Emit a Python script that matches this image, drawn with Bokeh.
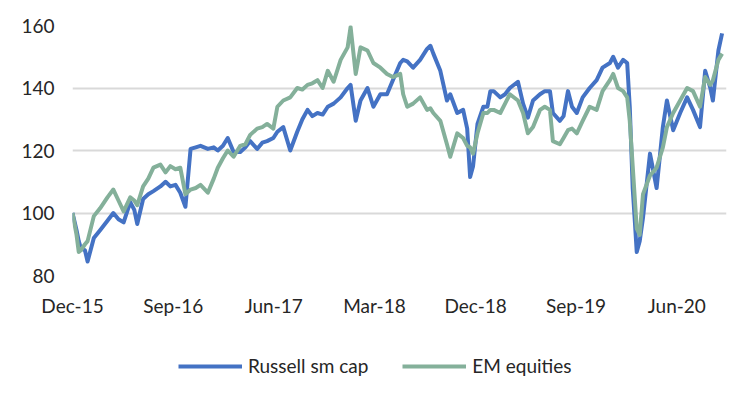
import pandas as pd
from bokeh.plotting import figure
from bokeh.layouts import column
from bokeh.models import Range1d, FixedTicker, DatetimeTickFormatter, Legend, LegendItem, ColumnDataSource
from bokeh.embed import file_html
from bokeh.resources import INLINE

dates = ["2015-12-31","2016-01-11","2016-01-17","2016-01-22","2016-02-03","2016-02-10","2016-02-27","2016-03-15",
 "2016-04-04","2016-04-20","2016-05-04","2016-05-18","2016-06-05","2016-06-16","2016-06-24","2016-07-10","2016-07-24",
 "2016-08-07","2016-08-26","2016-09-09","2016-09-22","2016-10-06","2016-10-19","2016-11-02","2016-11-16","2016-11-30",
 "2016-12-13","2017-01-02","2017-01-18","2017-01-29","2017-02-12","2017-02-25","2017-03-13","2017-03-31","2017-04-14",
 "2017-04-27","2017-05-16","2017-05-30","2017-06-12","2017-06-29","2017-07-10","2017-07-26","2017-08-14","2017-09-02",
 "2017-09-16","2017-09-30","2017-10-13","2017-10-27","2017-11-10","2017-11-24","2017-12-10","2017-12-29","2018-01-17",
 "2018-01-25","2018-02-08","2018-02-21","2018-03-12","2018-03-28","2018-04-16","2018-05-04","2018-05-20","2018-06-09",
 "2018-06-17","2018-06-28","2018-07-14","2018-08-02","2018-08-21","2018-08-30","2018-09-07","2018-09-26","2018-10-14",
 "2018-10-23","2018-11-11","2018-11-27","2018-12-08","2018-12-16","2018-12-24","2019-01-05","2019-01-21","2019-02-01",
 "2019-02-09","2019-02-18","2019-03-08","2019-03-21","2019-04-03","2019-04-25","2019-05-09","2019-05-22","2019-06-05",
 "2019-06-24","2019-07-07","2019-07-21","2019-07-29","2019-08-17","2019-08-27","2019-09-08","2019-09-19","2019-10-02",
 "2019-10-18","2019-11-06","2019-11-25","2019-12-11","2019-12-31","2020-01-09","2020-01-22","2020-02-05","2020-02-16",
 "2020-02-23","2020-03-02","2020-03-08","2020-03-13","2020-03-21","2020-03-30","2020-04-18","2020-05-06","2020-05-23",
 "2020-06-03","2020-06-20","2020-07-09","2020-07-28","2020-08-13","2020-09-01","2020-09-15","2020-09-29","2020-10-06",
 "2020-10-21","2020-10-31","2020-11-09"]

russell = [100,94.5,91,89,88,84.5,92,94.5,97.5,100,98,97,103.5,101,96.5,104.5,106,107,108.5,110,108.5,109,106.5,102,
 120.5,121,121.5,120.5,121,120,121.5,124,119.5,119.5,121,123,120.5,122.5,123,124,126,127.5,120,126,130,133,131,132,
 131.5,134,135,137,140,141,129.5,136,140,134,138,138,142.5,148,149,148.5,146.5,149,152.5,153.5,151,145.5,136,138,
 132,133,127,111.5,115,128.5,134,134,139,139,137,138,140,142,135,130.5,136,138,139,139,132,129.5,131,139,134,132,
 137,140,142.5,146.5,148,150,146.5,149,148,134,108,97,87.5,91,98.5,119,108,127.5,136,126.5,132,137,133,127.5,
 145.5,140,136,152,157.5]

em = [100,93,87.5,88,90,91,99,101.5,105,107.5,104,100.5,105,104,102.5,108.5,111,114.5,115.5,113,115,114,114.5,106,
 107.5,108,109,106.5,111,114.5,117.5,120,118,121.5,122,125,127,127.5,128.5,127,134,136,137,140,139.5,141,141.5,
 142.5,140,145.5,142,149,153,159.5,144.5,153,152,148,146.5,144.5,143.5,144.5,138,134,135,137,133,133.5,132,129.5,
 122,118,125.5,124,121.5,121,119,125.5,132,132,133,133,132,135,138,136,132,125.5,127.5,133,134,133,123,122,124,
 126.5,127,125.5,129.5,134,133,139,142.5,144.5,140,139,137,129.5,115,104,95,93,106,112,114.5,121,127.5,132,136,
 140,139,134,143.5,141,142.5,149,151]

series_names = ["Russell sm cap", "EM equities"]
tick_dates = ["2015-12-31","2016-09-30","2017-06-30","2018-03-31","2018-12-31","2019-09-30","2020-06-30"]
y_ticks = [80, 100, 120, 140, 160]

BLUE, GREEN = "#4472C4", "#84B09A"
FONT = "Lato"
TXT = "#262626"

x = pd.to_datetime(dates)
src = ColumnDataSource(dict(x=x, r=russell, e=em))

p = figure(frame_width=654, frame_height=250, output_backend="svg", toolbar_location=None,
           x_axis_type="datetime",
           x_range=Range1d(pd.Timestamp("2015-12-31"), pd.Timestamp("2020-11-12")),
           y_range=Range1d(80, 160),
           min_border_left=72, min_border_right=8, min_border_top=25, min_border_bottom=45)
p.outline_line_color = None

p.line("x", "r", source=src, line_color=BLUE, line_width=4, line_join="round")
p.line("x", "e", source=src, line_color=GREEN, line_width=4, line_join="round")

p.xgrid.grid_line_color = None
p.ygrid.grid_line_color = "#D9D9D9"
p.ygrid.grid_line_width = 2
p.yaxis.ticker = FixedTicker(ticks=y_ticks)
tick_ms = [pd.Timestamp(d).value // 10**6 for d in tick_dates]
p.xaxis.ticker = FixedTicker(ticks=tick_ms)
fmt = "%b-%y"
p.xaxis.formatter = DatetimeTickFormatter(days=fmt, months=fmt, years=fmt, hours=fmt, minutes=fmt,
                                          seconds=fmt, milliseconds=fmt, microseconds=fmt, minsec=fmt, hourmin=fmt)

for ax in (p.xaxis[0], p.yaxis[0]):
    ax.axis_line_color = None
    ax.major_tick_line_color = None
    ax.minor_tick_line_color = None
    ax.major_label_text_font = FONT
    ax.major_label_text_font_size = "19px"
    ax.major_label_text_color = TXT
p.yaxis.major_label_standoff = 12
p.xaxis.major_label_standoff = 12

# legend strip below the chart (series drawn out of view, only the legend shows)
lf = figure(width=734, height=70, output_backend="svg", toolbar_location=None,
            x_axis_location=None, y_axis_location=None,
            x_range=Range1d(0, 1), y_range=Range1d(0, 1),
            min_border=0, min_border_left=0, min_border_right=0, min_border_top=0, min_border_bottom=0)
lf.grid.visible = False
lf.outline_line_color = None
lb = lf.line("x", "r", source=src, line_color=BLUE, line_width=4)
lg = lf.line("x", "e", source=src, line_color=GREEN, line_width=4)
legend = Legend(items=[LegendItem(label=series_names[0], renderers=[lb]),
                       LegendItem(label=series_names[1], renderers=[lg])],
                orientation="horizontal", location=(106, 13),
                glyph_width=64, glyph_height=20, label_standoff=6, spacing=34,
                label_text_font=FONT, label_text_font_size="19px", label_text_color=TXT,
                border_line_color=None, background_fill_alpha=0, padding=4, margin=0)
lf.add_layout(legend, "center")

layout = column(p, lf, spacing=0)
open("out.html", "w").write(file_html(layout, INLINE))
